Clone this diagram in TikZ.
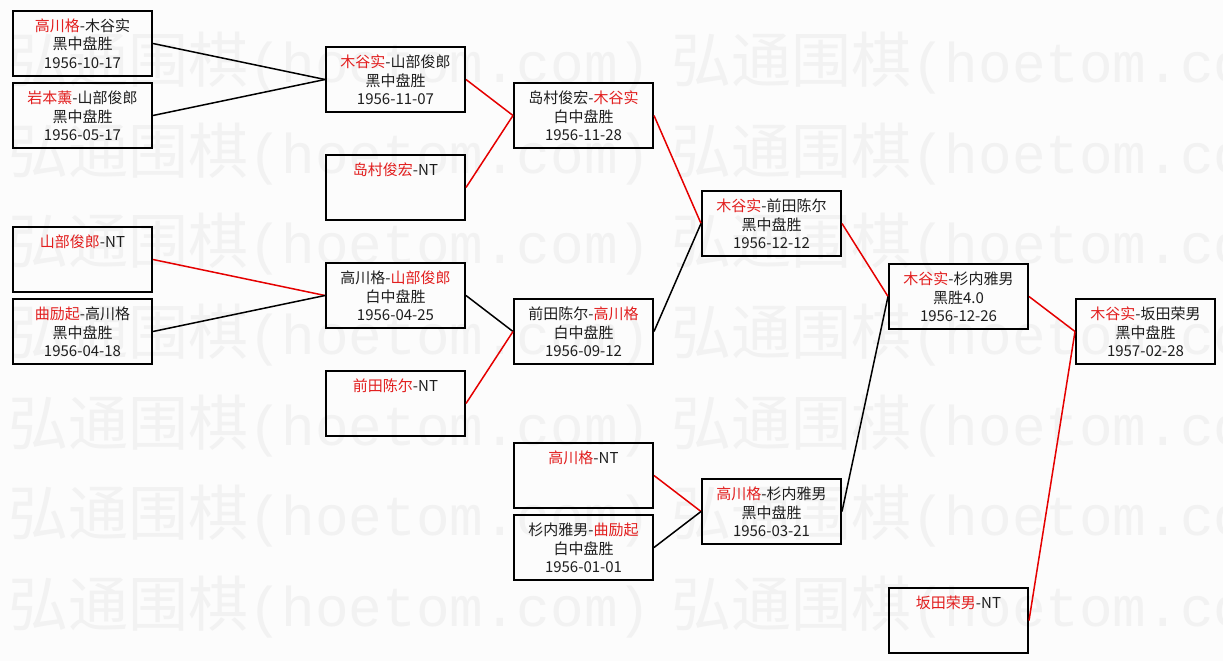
\documentclass[tikz,border=0pt]{standalone}
\usepackage{fontspec}
\setmainfont{Noto Sans CJK SC}
\newfontfamily\wmmono{Liberation Mono}
\definecolor{winred}{RGB}{226,30,30}
\definecolor{inkgray}{RGB}{30,30,30}
\definecolor{wmgray}{RGB}{242,242,242}
\definecolor{paper}{RGB}{252,252,252}
\newcommand{\win}[1]{\textcolor{winred}{#1}}
\newcommand{\gamelines}[1]{\parbox[c][65pt][t]{139pt}{\centering\rule{0pt}{20.5pt}#1}}
\tikzset{
  game/.style={draw=black, line width=2pt, rectangle, anchor=north west, minimum width=139pt, minimum height=65pt, inner sep=0pt, font=\fontsize{15pt}{18.5pt}\selectfont, text=inkgray},
  won/.style={draw=red!90!black, line width=1.5pt},
  lost/.style={draw=black, line width=1.5pt},
  wtext/.style={anchor=west, inner sep=0pt, text=wmgray, font=\fontsize{60pt}{60pt}\selectfont}
}

\begin{document}
\begin{tikzpicture}[x=1pt, y=-1pt]
  \useasboundingbox (0,0) rectangle (1223,661);
  \fill[paper] (0,0) rectangle (1223,661);
  % watermark
  \begin{scope}
    \clip (0,0) rectangle (1223,661);
    \foreach \y in {63,154,244,335,426,516,607}
      \foreach \x in {8,671}
        \node[wtext] (wm-\x-\y) at (\x,\y) {弘通围棋{\wmmono\fontsize{56pt}{56pt}\selectfont(hoetom.com)}};
  \end{scope}
  % round 1
  \node[game] (r1a) at (12,10)  {\gamelines{\win{高川格}-木谷实\\黑中盘胜\\1956-10-17}};
  \node[game] (r1b) at (12,82)  {\gamelines{\win{岩本薰}-山部俊郎\\黑中盘胜\\1956-05-17}};
  \node[game] (r1c) at (12,226) {\gamelines{\win{山部俊郎}-NT}};
  \node[game] (r1d) at (12,298) {\gamelines{\win{曲励起}-高川格\\黑中盘胜\\1956-04-18}};
  % round 2
  \node[game] (r2a) at (325,46)  {\gamelines{\win{木谷实}-山部俊郎\\黑中盘胜\\1956-11-07}};
  \node[game] (r2b) at (325,154) {\gamelines{\win{岛村俊宏}-NT}};
  \node[game] (r2c) at (325,262) {\gamelines{高川格-\win{山部俊郎}\\白中盘胜\\1956-04-25}};
  \node[game] (r2d) at (325,370) {\gamelines{\win{前田陈尔}-NT}};
  % round 3
  \node[game] (r3a) at (513,82)  {\gamelines{岛村俊宏-\win{木谷实}\\白中盘胜\\1956-11-28}};
  \node[game] (r3b) at (513,298) {\gamelines{前田陈尔-\win{高川格}\\白中盘胜\\1956-09-12}};
  \node[game] (r3c) at (513,442) {\gamelines{\win{高川格}-NT}};
  \node[game] (r3d) at (513,514) {\gamelines{杉内雅男-\win{曲励起}\\白中盘胜\\1956-01-01}};
  % round 4
  \node[game] (r4a) at (701,190) {\gamelines{\win{木谷实}-前田陈尔\\黑中盘胜\\1956-12-12}};
  \node[game] (r4b) at (701,478) {\gamelines{\win{高川格}-杉内雅男\\黑中盘胜\\1956-03-21}};
  % round 5
  \node[game] (r5a) at (888,263) {\gamelines{\win{木谷实}-杉内雅男\\黑胜4.0\\1956-12-26}};
  \node[game] (r5b) at (888,587) {\gamelines{\win{坂田荣男}-NT}};
  % final
  \node[game] (fin) at (1075,298) {\gamelines{\win{木谷实}-坂田荣男\\黑中盘胜\\1957-02-28}};

  \draw[lost] (r1a.east) -- (r2a.west);
  \draw[lost] (r1b.east) -- (r2a.west);
  \draw[won]  (r1c.east) -- (r2c.west);
  \draw[lost] (r1d.east) -- (r2c.west);
  \draw[won]  (r2a.east) -- (r3a.west);
  \draw[won]  (r2b.east) -- (r3a.west);
  \draw[lost] (r2c.east) -- (r3b.west);
  \draw[won]  (r2d.east) -- (r3b.west);
  \draw[won]  (r3a.east) -- (r4a.west);
  \draw[lost] (r3b.east) -- (r4a.west);
  \draw[won]  (r3c.east) -- (r4b.west);
  \draw[lost] (r3d.east) -- (r4b.west);
  \draw[won]  (r4a.east) -- (r5a.west);
  \draw[lost] (r4b.east) -- (r5a.west);
  \draw[won]  (r5a.east) -- (fin.west);
  \draw[won]  (r5b.east) -- (fin.west);
\end{tikzpicture}
\end{document}
